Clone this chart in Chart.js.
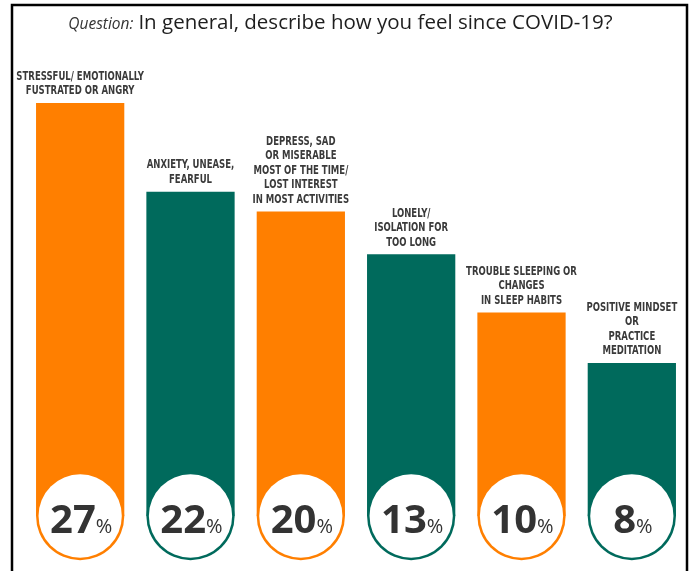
<!DOCTYPE html>
<html>
<head>
<meta charset="utf-8">
<script src="https://cdn.jsdelivr.net/npm/chart.js@4"></script>
<style>
  html,body{margin:0;padding:0;background:#fff;}
  #wrap{position:relative;width:695px;height:571px;}
  #title{position:absolute;left:0;top:7px;width:681px;text-align:center;font-family:"Open Sans",sans-serif;font-size:20.5px;color:#1e1e1e;white-space:nowrap;}
  #title i{font-size:15.5px;color:#333;margin-right:5px;}
</style>
</head>
<body>
<div id="wrap">
  <canvas id="chart" width="695" height="571"></canvas>
  <div id="title"><i>Question:</i>In general, describe how you feel since COVID-19?</div>
</div>
<script>
// ---------- DATA ----------
const categories = [
  ['STRESSFUL/ EMOTIONALLY','FUSTRATED OR ANGRY'],
  ['ANXIETY, UNEASE,','FEARFUL'],
  ['DEPRESS, SAD','OR MISERABLE','MOST OF THE TIME/','LOST INTEREST','IN MOST ACTIVITIES'],
  ['LONELY/','ISOLATION FOR','TOO LONG'],
  ['TROUBLE SLEEPING OR','CHANGES','IN SLEEP HABITS'],
  ['POSITIVE MINDSET','OR','PRACTICE','MEDITATION']
];
const percents = [27, 22, 20, 13, 10, 8];
// bar heights as drawn in the infographic (not to scale with the percentages)
const barLevels = [27, 21.2, 19.9, 17.1, 13.3, 10.0];
const barColors = ['#ff7f00','#006a5c','#ff7f00','#006a5c','#ff7f00','#006a5c'];

// ---------- PLUGINS ----------
const frame = {
  id:'frame',
  beforeDraw(chart){
    const c = chart.ctx;
    c.save();
    c.strokeStyle = '#000';
    c.lineWidth = 2.5;
    c.beginPath();
    c.moveTo(12, 571);
    c.lineTo(12, 5);
    c.lineTo(687, 5);
    c.lineTo(687, 571);
    c.stroke();
    c.restore();
  }
};

const decor = {
  id:'decor',
  afterDatasetsDraw(chart){
    const c = chart.ctx;
    const bars = chart.getDatasetMeta(0).data;
    c.save();
    bars.forEach((bar, i) => {
      const r = bar.width / 2;
      // rounded bottom with white badge
      c.fillStyle = barColors[i];
      c.beginPath();
      c.arc(bar.x, bar.base, r, 0, Math.PI * 2);
      c.fill();
      c.fillStyle = '#fff';
      c.beginPath();
      c.arc(bar.x, bar.base, r - 2.5, 0, Math.PI * 2);
      c.fill();

      // percent value
      const num = String(percents[i]);
      c.font = 'bold 40px "Open Sans"';
      const wNum = c.measureText(num).width;
      c.font = '20px "Open Sans"';
      const wPct = c.measureText('%').width;
      const x0 = bar.x - (wNum + wPct) / 2 + 1;
      const base = bar.base + 17;
      c.fillStyle = '#333';
      c.textAlign = 'left';
      c.textBaseline = 'alphabetic';
      c.font = 'bold 40px "Open Sans"';
      c.fillText(num, x0, base);
      c.font = '20px "Open Sans"';
      c.fillText('%', x0 + wNum, base);

      // category label above the bar (condensed look)
      const lines = categories[i];
      c.font = 'bold 12px "DejaVu Sans Condensed", sans-serif';
      c.fillStyle = '#3a3a3a';
      c.textAlign = 'center';
      c.textBaseline = 'middle';
      const lh = 14.5;
      lines.forEach((ln, k) => {
        c.save();
        c.translate(bar.x, bar.y - 12 - (lines.length - 1 - k) * lh);
        c.scale(0.79, 1.05);
        c.fillText(ln, 0, 0);
        c.restore();
      });
    });
    c.restore();
  }
};

// ---------- CHART ----------
new Chart(document.getElementById('chart'), {
  type:'bar',
  data:{
    labels: categories.map(l => l.join(' ')),
    datasets:[{
      data: barLevels,
      backgroundColor: barColors,
      borderWidth: 0,
      categoryPercentage: 0.8,
      barPercentage: 1
    }]
  },
  options:{
    responsive:false,
    animation:false,
    layout:{padding:{left:25, right:8, top:57, bottom:55}},
    plugins:{legend:{display:false}, tooltip:{enabled:false}, title:{display:false}},
    scales:{
      x:{display:false},
      y:{display:false, min:0, max:30}
    }
  },
  plugins:[frame, decor]
});
</script>
</body>
</html>
